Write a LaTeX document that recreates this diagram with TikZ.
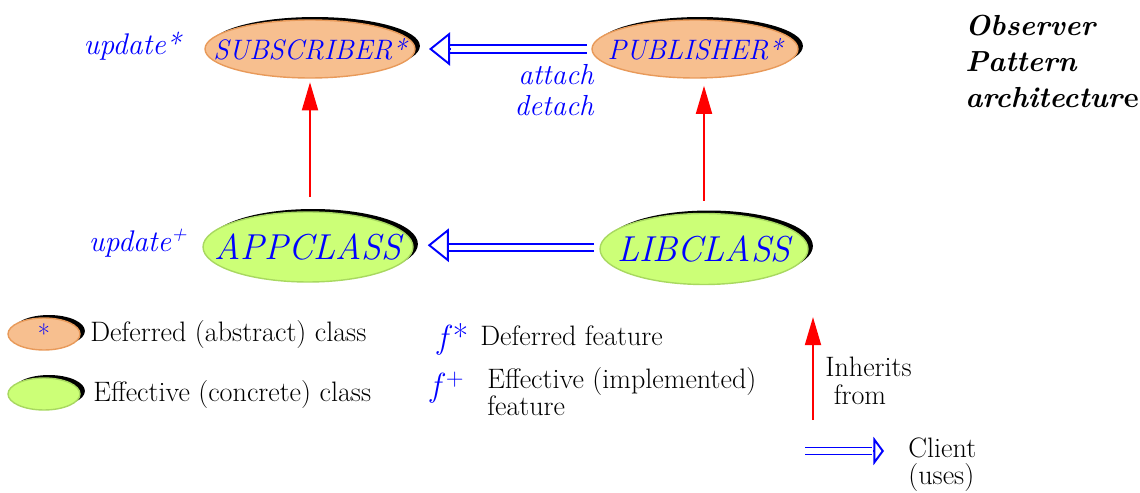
\documentclass[tikz,border=0pt]{standalone}
\usepackage{fontspec}
\newcommand{\tms}{\rmfamily}
\usetikzlibrary{shapes.geometric,arrows.meta,shadows}
\definecolor{defcol}{HTML}{F7BF8F}
\definecolor{defedge}{HTML}{E89A5A}
\definecolor{effcol}{HTML}{CCFF77}
\definecolor{effedge}{HTML}{A8D860}
\definecolor{txtblue}{HTML}{0000FF}
\newcommand{\zb}[1]{\makebox[0pt]{#1}}
\begin{document}
\begin{tikzpicture}[x=0.02cm,y=-0.02cm,
 cls/.style={ellipse, inner sep=0pt, line width=0.8pt,
   general shadow={fill=black, shadow xshift=2.8pt, shadow yshift=1.7pt}, text=txtblue},
 deferred/.style={cls, fill=defcol, draw=defedge},
 effective/.style={cls, fill=effcol, draw=effedge},
 inherit/.style={draw=red, line width=1.4pt, -{Triangle[length=16pt,width=9pt]}},
 clientline/.style={draw=blue, line width=1.1pt},
 clienthead/.style={draw=blue, line width=1.1pt, -{Triangle[open,length=12pt,width=19pt]}},
 smallhead/.style={draw=blue, line width=1.1pt, -{Triangle[open,length=6pt,width=16pt]}},
 lbl/.style={text=txtblue, inner sep=0pt},
 legend/.style={font=\tms\fontsize{16}{15.5}\selectfont, inner sep=0pt, align=left},
]
\useasboundingbox (0,0) rectangle (1140,493);

% classes
\node[deferred, minimum width=4.2cm, minimum height=1.16cm, font=\tms\itshape\fontsize{16}{18}\selectfont] (sub) at (310,49) {\zb{SUBSCRIBER*}};
\node[deferred, minimum width=4.12cm, minimum height=1.16cm, font=\tms\itshape\fontsize{16}{18}\selectfont] (pub) at (695,49) {\zb{PUBLISHER*}};
\node[effective, minimum width=4.2cm, minimum height=1.4cm, font=\tms\itshape\fontsize{20.5}{24}\selectfont] (app) at (308,247) {\zb{APPCLASS}};
\node[effective, minimum width=4.16cm, minimum height=1.42cm, font=\tms\itshape\fontsize{20.5}{24}\selectfont] (lib) at (704,249) {\zb{LIBCLASS}};

% inheritance
\draw[inherit, shorten <=8pt, shorten >=2pt] (app.north -| sub.south) -- (sub.south);
\draw[inherit, shorten <=7pt, shorten >=4pt] (lib.north) -- (lib.north |- pub.south);

% client
\draw[clientline, shorten <=2.5pt, shorten >=19.6pt] ([yshift=2.5pt]pub.west) -- ([yshift=2.5pt]pub.west -| sub.east);
\draw[clientline, shorten <=2.5pt, shorten >=19.6pt] ([yshift=-2.5pt]pub.west) -- ([yshift=-2.5pt]pub.west -| sub.east);
\draw[clienthead, shorten >=7.6pt] ([xshift=19.6pt]sub.east) -- (sub.east);

\draw[clientline, shorten <=3pt, shorten >=20pt] ([yshift=3pt]lib.west) -- ([yshift=3pt]lib.west -| app.east);
\draw[clientline, shorten <=3pt, shorten >=20pt] ([yshift=-1pt]lib.west) -- ([yshift=-1pt]lib.west -| app.east);
\draw[clienthead, shorten >=8pt] ([xshift=20pt,yshift=1pt]app.east) -- ([yshift=1pt]app.east);

% feature labels
\node[lbl, anchor=base east, font=\tms\itshape\fontsize{17}{18}\selectfont] (u1) at (181,55) {update*};
\node[lbl, anchor=base east, font=\tms\itshape\fontsize{17}{18}\selectfont] (u2) at (188,252) {update\textsuperscript{+}};
\node[lbl, anchor=north east, align=right, font=\tms\itshape\fontsize{16.5}{17.6}\selectfont] (ad) at (594,64) {attach\\detach};

% title
\node[anchor=north west, align=left, inner sep=0pt, font=\tms\bfseries\itshape\fontsize{16.5}{20.5}\selectfont] (title) at (965,15) {Observer\\Pattern\\architectur\textup{e}};

% legend
\node[deferred, minimum width=1.44cm, minimum height=0.64cm, font=\tms\fontsize{15}{17}\selectfont] (ld) at (44,334) {*};
\node[effective, minimum width=1.44cm, minimum height=0.64cm] (le) at (44,394) {};
\node[legend, anchor=west] (tld) at (90,334) {Deferred (abstract) class};
\node[legend, anchor=west] (tle) at (93,394) {Effective (concrete) class};

\node[lbl, anchor=base west, font=\tms\itshape\fontsize{19}{22}\selectfont] (fs) at (437,349) {f\,\textup{*}};
\node[legend, anchor=base west] (tfs) at (480,346) {Deferred feature};
\node[lbl, anchor=base west, font=\tms\itshape\fontsize{19}{22}\selectfont] (fp) at (430,397) {f\,\textsuperscript{\upshape +}};
\node[legend, anchor=north west] (tfp) at (487,367) {Effective (implemented)\\feature};

\coordinate (ia) at (813,420);
\coordinate (ib) at (813,317);
\draw[draw=red, line width=1.4pt, -{Triangle[length=16pt,width=9pt]}] (ia) -- (ib);
\node[legend, anchor=north west] (tin) at (825,357) {Inherits\\\ from};

\coordinate (ca) at (805,451);
\coordinate (cb) at (884,451);
\draw[clientline, shorten >=6.6pt] ([yshift=2pt]ca) -- ([yshift=2pt]cb);
\draw[clientline, shorten >=6.6pt] ([yshift=-2pt]ca) -- ([yshift=-2pt]cb);
\draw[smallhead] ([xshift=-6pt]cb) -- (cb);
\node[legend, anchor=north west] (tcl) at (908,437) {Client\\(uses)};
\end{tikzpicture}
\end{document}
